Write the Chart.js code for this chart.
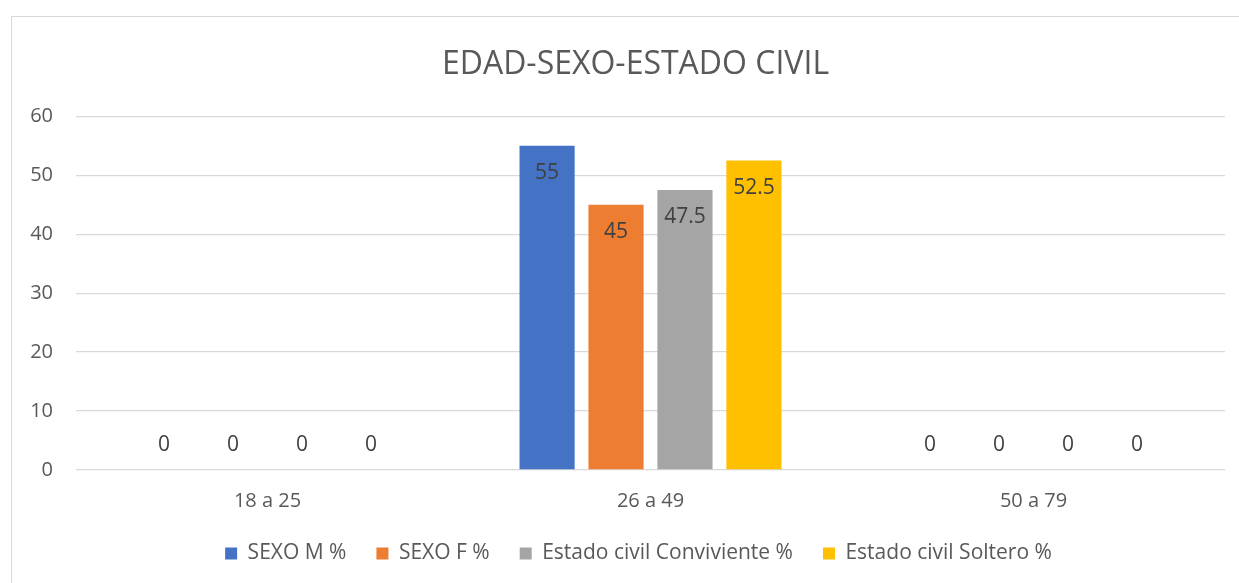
<!DOCTYPE html>
<html>
<head>
<meta charset="utf-8">
<script src="https://cdn.jsdelivr.net/npm/chart.js@4"></script>
<style>
  html, body { margin: 0; padding: 0; background: #fff; }
  #wrap { position: relative; width: 1239px; height: 583px; overflow: hidden; }
  #frame { position: absolute; left: 11px; top: 16px; width: 1260px; height: 600px; border: 1px solid #D9D9D9; }
  #chart { position: absolute; left: 0; top: 0; }
</style>
</head>
<body>
<div id="wrap">
  <div id="frame"></div>
  <canvas id="chart" width="1239" height="583"></canvas>
</div>
<script>
// Datos del gráfico
const categorias = ['18 a 25', '26 a 49', '50 a 79'];
const sexoM = [0, 55, 0];
const sexoF = [0, 45, 0];
const convivientes = [0, 47.5, 0];
const solteros = [0, 52.5, 0];
const nombresSeries = ['SEXO M %', 'SEXO F %', 'Estado civil Conviviente %', 'Estado civil Soltero %'];
const colores = ['#4472C4', '#ED7D31', '#A5A5A5', '#FFC000'];
const ticksY = [0, 10, 20, 30, 40, 50, 60];

const FUENTE = "'Open Sans', 'DejaVu Sans', sans-serif";

// Etiquetas de datos: dentro de la barra arriba, o encima del eje si vale 0
const etiquetasDatos = {
    id: 'etiquetasDatos',
    afterDatasetsDraw(chart) {
        const ctx = chart.ctx;
        ctx.save();
        ctx.font = '21px ' + FUENTE;
        ctx.fillStyle = '#404040';
        ctx.textAlign = 'center';
        ctx.textBaseline = 'middle';
        chart.data.datasets.forEach((ds, i) => {
            const meta = chart.getDatasetMeta(i);
            meta.data.forEach((bar, j) => {
                const v = ds.data[j];
                const y = v > 0 ? bar.y + 27 : bar.y - 25;
                ctx.fillText(String(v), bar.x, y);
            });
        });
        ctx.restore();
    }
};

// En el original el título y la leyenda están centrados en todo el marco (más ancho que la ventana)
const desplazarCajas = {
    id: 'desplazarCajas',
    afterUpdate(chart) {
        if (chart.titleBlock) { chart.titleBlock.left += 23; chart.titleBlock.right += 23; }
        if (chart.legend) { chart.legend.left += 26; chart.legend.right += 26; }
    }
};

const series = [sexoM, sexoF, convivientes, solteros];

new Chart(document.getElementById('chart'), {
    type: 'bar',
    data: {
        labels: categorias,
        datasets: series.map((d, i) => ({
            label: nombresSeries[i],
            data: d,
            backgroundColor: colores[i],
            borderWidth: 0,
            categoryPercentage: 0.72,
            barPercentage: 0.8
        }))
    },
    options: {
        responsive: false,
        animation: false,
        layout: { padding: { left: 0, right: 14, top: 0, bottom: 9 } },
        plugins: {
            title: {
                display: true,
                text: 'EDAD-SEXO-ESTADO CIVIL',
                color: '#595959',
                font: { family: FUENTE, size: 32, weight: 'normal' },
                padding: { top: 46, bottom: 32 }
            },
            legend: {
                position: 'bottom',
                labels: {
                    color: '#595959',
                    font: { family: FUENTE, size: 21 },
                    boxWidth: 12,
                    boxHeight: 12,
                    padding: 30
                }
            },
            tooltip: { enabled: false }
        },
        scales: {
            x: {
                afterFit(scale) { scale.height = 43; },
                grid: { display: false },
                border: { display: false },
                ticks: { color: '#595959', font: { family: FUENTE, size: 20 }, padding: 11 }
            },
            y: {
                min: 0,
                max: 60,
                afterFit(scale) { scale.width = 76; },
                afterBuildTicks(scale) { scale.ticks = ticksY.map(v => ({ value: v })); },
                grid: { color: '#D9D9D9', lineWidth: 1.3, drawTicks: false },
                border: { display: false },
                ticks: { color: '#595959', font: { family: FUENTE, size: 20 }, padding: 23 }
            }
        }
    },
    plugins: [etiquetasDatos, desplazarCajas]
});
</script>
</body>
</html>
